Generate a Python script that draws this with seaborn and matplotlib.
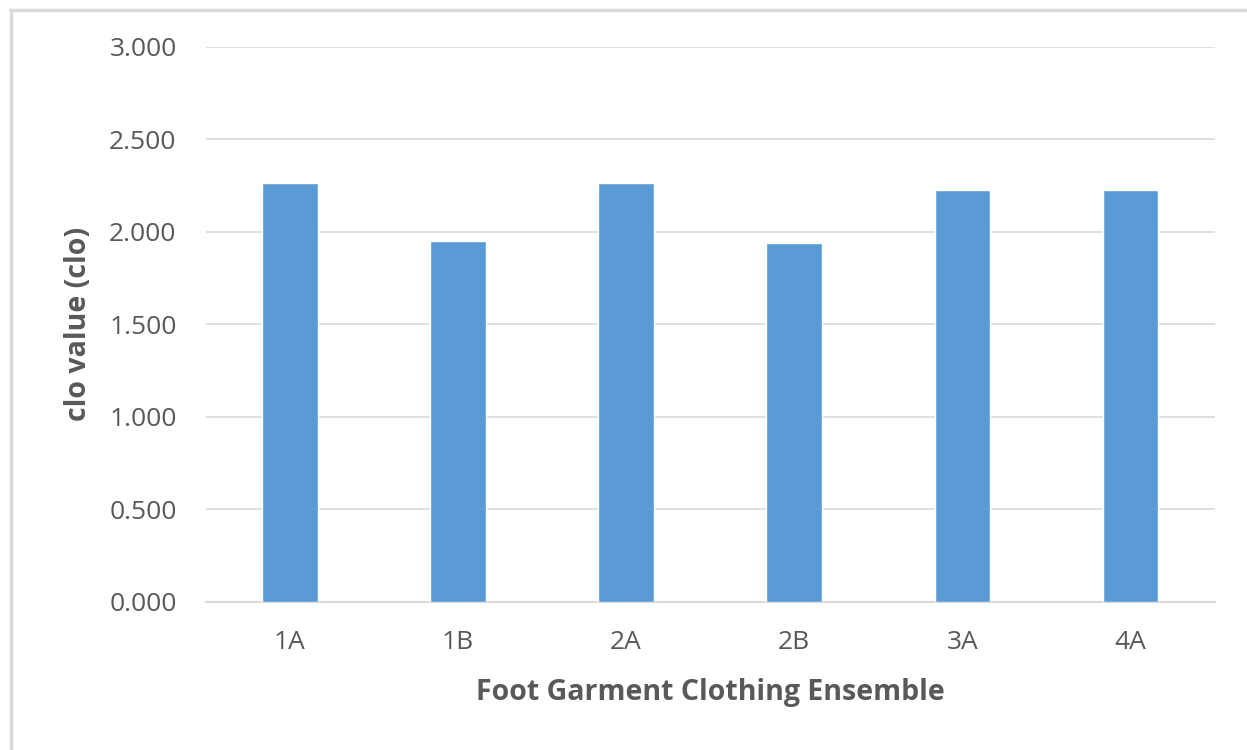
import matplotlib
matplotlib.use("Agg")
import matplotlib.pyplot as plt
import seaborn as sns
from matplotlib.lines import Line2D

# Thermal insulation of each foot garment ensemble
ensembles = ["1A", "1B", "2A", "2B", "3A", "4A"]
clo_values = [2.262, 1.950, 2.262, 1.940, 2.225, 2.225]
y_ticks = [0.0, 0.5, 1.0, 1.5, 2.0, 2.5, 3.0]

sns.set_theme(style="white")
plt.rcParams["font.family"] = ["Open Sans", "DejaVu Sans"]

text_grey = "#595959"
grid_grey = "#D9D9D9"
bar_blue = "#5B9BD5"

fig = plt.figure(figsize=(12.47, 7.5), dpi=100)
ax = fig.add_axes([0.165, 0.1977, 0.809, 0.74])

sns.barplot(x=ensembles, y=clo_values, color=bar_blue, saturation=1,
            width=0.33, ax=ax, zorder=3)

ax.set_xlim(-0.5, len(ensembles) - 0.5)
ax.set_ylim(0, 3.0)
ax.set_yticks(y_ticks)
ax.set_yticklabels([f"{v:.3f}" for v in y_ticks])
ax.yaxis.grid(True, color=grid_grey, linewidth=1.2, zorder=0)
ax.xaxis.grid(False)
for side in ["top", "right", "left"]:
    ax.spines[side].set_visible(False)
ax.spines["bottom"].set_color(grid_grey)
ax.spines["bottom"].set_linewidth(1.5)

ax.tick_params(axis="y", length=0, pad=21, labelsize=19, labelcolor=text_grey)
ax.tick_params(axis="x", length=0, pad=20, labelsize=19, labelcolor=text_grey)

ax.set_ylabel("clo value (clo)", fontsize=20.5, fontweight="bold",
              color=text_grey, labelpad=12)
ax.set_xlabel("Foot Garment Clothing Ensemble", fontsize=20.5,
              fontweight="bold", color=text_grey, labelpad=17)

# Light frame on the top and left edges of the figure
fig.add_artist(Line2D([10 / 1247, 1.0], [1 - 9.5 / 750] * 2,
                      transform=fig.transFigure, color="#DADADA", linewidth=2.5))
fig.add_artist(Line2D([10.5 / 1247] * 2, [0.0, 1 - 9.5 / 750],
                      transform=fig.transFigure, color="#DADADA", linewidth=2.5))

fig.savefig("out.png", dpi=100, facecolor="white")
